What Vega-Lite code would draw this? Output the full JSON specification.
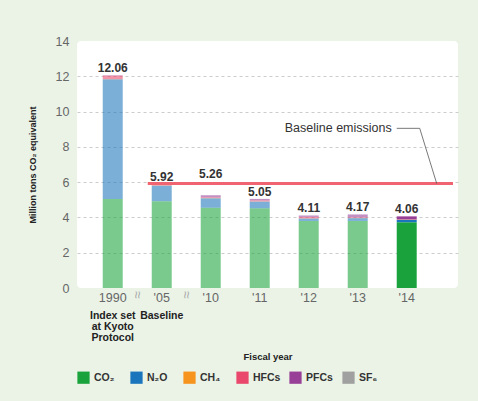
{
  "$schema": "https://vega.github.io/schema/vega-lite/v6.json",
  "width": 381,
  "height": 247,
  "autosize": "none",
  "padding": {"left": 77, "top": 41, "right": 20, "bottom": 113},
  "background": "#ebf3e7",
  "config": {
    "font": "Liberation Sans",
    "view": {"fill": "white", "stroke": null, "cornerRadius": 4}
  },
  "datasets": {
    "gases": [
      {"year": "1990", "gas": "CO₂", "value": 5.05},
      {"year": "1990", "gas": "N₂O", "value": 6.78},
      {"year": "1990", "gas": "CH₄", "value": 0.01},
      {"year": "1990", "gas": "HFCs", "value": 0.20},
      {"year": "1990", "gas": "PFCs", "value": 0.02},
      {"year": "'05", "gas": "CO₂", "value": 4.92},
      {"year": "'05", "gas": "N₂O", "value": 0.88},
      {"year": "'05", "gas": "CH₄", "value": 0.01},
      {"year": "'05", "gas": "HFCs", "value": 0.05},
      {"year": "'05", "gas": "PFCs", "value": 0.06},
      {"year": "'10", "gas": "CO₂", "value": 4.55},
      {"year": "'10", "gas": "N₂O", "value": 0.54},
      {"year": "'10", "gas": "CH₄", "value": 0.01},
      {"year": "'10", "gas": "HFCs", "value": 0.05},
      {"year": "'10", "gas": "PFCs", "value": 0.11},
      {"year": "'11", "gas": "CO₂", "value": 4.52},
      {"year": "'11", "gas": "N₂O", "value": 0.38},
      {"year": "'11", "gas": "CH₄", "value": 0.01},
      {"year": "'11", "gas": "HFCs", "value": 0.06},
      {"year": "'11", "gas": "PFCs", "value": 0.08},
      {"year": "'12", "gas": "CO₂", "value": 3.80},
      {"year": "'12", "gas": "N₂O", "value": 0.14},
      {"year": "'12", "gas": "CH₄", "value": 0.01},
      {"year": "'12", "gas": "HFCs", "value": 0.08},
      {"year": "'12", "gas": "PFCs", "value": 0.08},
      {"year": "'13", "gas": "CO₂", "value": 3.80},
      {"year": "'13", "gas": "N₂O", "value": 0.16},
      {"year": "'13", "gas": "CH₄", "value": 0.01},
      {"year": "'13", "gas": "HFCs", "value": 0.04},
      {"year": "'13", "gas": "PFCs", "value": 0.16},
      {"year": "'14", "gas": "CO₂", "value": 3.73},
      {"year": "'14", "gas": "N₂O", "value": 0.14},
      {"year": "'14", "gas": "CH₄", "value": 0.01},
      {"year": "'14", "gas": "HFCs", "value": 0.02},
      {"year": "'14", "gas": "PFCs", "value": 0.16},
      {"year": "'14", "gas": "SF₆", "value": 0.0}
    ],
    "totals": [
      {"year": "1990", "value": 12.06},
      {"year": "'05", "value": 5.92},
      {"year": "'10", "value": 5.26},
      {"year": "'11", "value": 5.05},
      {"year": "'12", "value": 4.11},
      {"year": "'13", "value": 4.17},
      {"year": "'14", "value": 4.06}
    ],
    "baseline": [{"year": "'05", "value": 5.92}],
    "note": [{"year": "'14", "label": "Baseline emissions", "value": 9.05, "base": 5.92}],
    "breaks": [{"year": "1990", "value": 0}, {"year": "'05", "value": 0}]
  },
  "encoding": {
    "y": {
      "field": "value", "type": "quantitative",
      "scale": {"domain": [0, 14], "nice": false},
      "axis": {
        "title": "Million tons CO₂ equivalent", "values": [0, 2, 4, 6, 8, 10, 12, 14],
        "labelOverlap": false,
        "labelFontSize": 12.5, "labelColor": "#666", "labelPadding": 8,
        "domain": false, "ticks": false, "grid": true, "gridDash": [3, 3], "gridColor": "#cccccc",
        "gridOpacity": {"condition": {"test": "datum.value == 0 || datum.value == 14", "value": 0}, "value": 1},
        "titleFontSize": 9, "titleFontWeight": "bold", "titleColor": "#222", "titlePadding": 18
      }
    }
  },
  "layer": [
    {
      "data": {"name": "gases"},
      "transform": [
        {"calculate": "indexof(['CO₂', 'N₂O', 'CH₄', 'HFCs', 'PFCs', 'SF₆'], datum.gas)", "as": "gas_order"}
      ],
      "mark": {"type": "bar"},
      "encoding": {
        "x": {
          "field": "year", "type": "nominal", "sort": null,
          "scale": {"domain": ["1990", "'05", "'10", "'11", "'12", "'13", "'14"], "paddingInner": 0.592, "paddingOuter": 0.684, "align": 0.384},
          "axis": {"orient": "bottom", "title": "Fiscal year", "labelAngle": 0, "labelFontSize": 12.5, "labelColor": "#666", "labelPadding": 3, "ticks": false, "domain": false, "titleFontSize": 9.5, "titleFontWeight": "bold", "titleColor": "#222", "titlePadding": 48}
        },
        "color": {
          "field": "gas", "type": "nominal",
          "scale": {"domain": ["CO₂", "N₂O", "CH₄", "HFCs", "PFCs", "SF₆"], "range": ["#1aa33c", "#1b75bc", "#f7941d", "#e9476b", "#983f97", "#a0a0a0"]},
          "legend": {"title": null, "orient": "bottom", "direction": "horizontal", "columns": 6, "gridAlign": "all", "symbolType": "square", "symbolSize": 150, "symbolStrokeWidth": 0, "labelFontSize": 10.5, "labelFontWeight": "bold", "labelColor": "#333", "columnPadding": 8, "offset": 10}
        },
        "order": {"field": "gas_order", "type": "quantitative", "sort": "ascending"},
        "opacity": {"condition": {"test": "datum.year == \"'14\"", "value": 1}, "value": 0.58}
      }
    },
    {
      "data": {"name": "totals"},
      "transform": [{"filter": "datum.year != \"'10\""}],
      "mark": {"type": "text", "fontWeight": "bold", "fontSize": 12, "color": "#333", "baseline": "alphabetic", "dy": -3},
      "encoding": {
        "x": {
          "field": "year", "type": "nominal", "sort": null,
          "axis": {
            "orient": "bottom", "title": null, "ticks": false, "domain": false, "grid": false,
            "labelExpr": "datum.value == '1990' ? ['Index set', 'at Kyoto', 'Protocol'] : (datum.value == \"'05\" ? 'Baseline' : '')",
            "labelPadding": 22, "labelFontSize": 10.5, "labelFontWeight": "bold", "labelColor": "#222", "labelLineHeight": 11, "labelAngle": 0
          }
        },
        "text": {"field": "value", "type": "quantitative", "format": ".2f"}
      }
    },
    {
      "data": {"name": "totals"},
      "transform": [{"filter": "datum.year == \"'10\""}],
      "mark": {"type": "text", "fontWeight": "bold", "fontSize": 12, "color": "#333", "baseline": "alphabetic", "dy": -17},
      "encoding": {
        "x": {"field": "year", "type": "nominal", "axis": null},
        "text": {"field": "value", "type": "quantitative", "format": ".2f"}
      }
    },
    {
      "data": {"name": "baseline"},
      "mark": {"type": "rule", "color": "#ef6470", "strokeWidth": 3, "xOffset": -4, "x2Offset": -5},
      "encoding": {
        "x": {"field": "year", "type": "nominal", "bandPosition": 0, "axis": null},
        "x2": {"value": "width"}
      }
    },
    {
      "data": {"name": "note"},
      "mark": {"type": "text", "align": "right", "baseline": "middle", "dx": -5, "fontSize": 12.5, "color": "#333"},
      "encoding": {
        "x": {"field": "year", "type": "nominal", "bandPosition": 0, "axis": null},
        "text": {"field": "label"}
      }
    },
    {
      "data": {"name": "note"},
      "mark": {"type": "rule", "color": "#555", "strokeWidth": 0.8, "xOffset": 0, "x2Offset": 13},
      "encoding": {
        "x": {"field": "year", "type": "nominal", "bandPosition": 0, "axis": null},
        "x2": {"field": "year"}
      }
    },
    {
      "data": {"name": "note"},
      "mark": {"type": "rule", "color": "#555", "strokeWidth": 0.8, "xOffset": 23, "x2Offset": 30},
      "encoding": {
        "x": {"field": "year", "type": "nominal", "bandPosition": 0, "axis": null},
        "x2": {"field": "year"},
        "y2": {"field": "base"}
      }
    },
    {
      "data": {"name": "breaks"},
      "mark": {"type": "text", "text": "≈", "angle": 90, "fontSize": 14, "color": "#aaa", "baseline": "middle", "align": "center", "dx": 7},
      "encoding": {
        "x": {"field": "year", "type": "nominal", "bandPosition": 1.73, "axis": null}
      }
    }
  ],
  "resolve": {"axis": {"x": "independent"}}
}
